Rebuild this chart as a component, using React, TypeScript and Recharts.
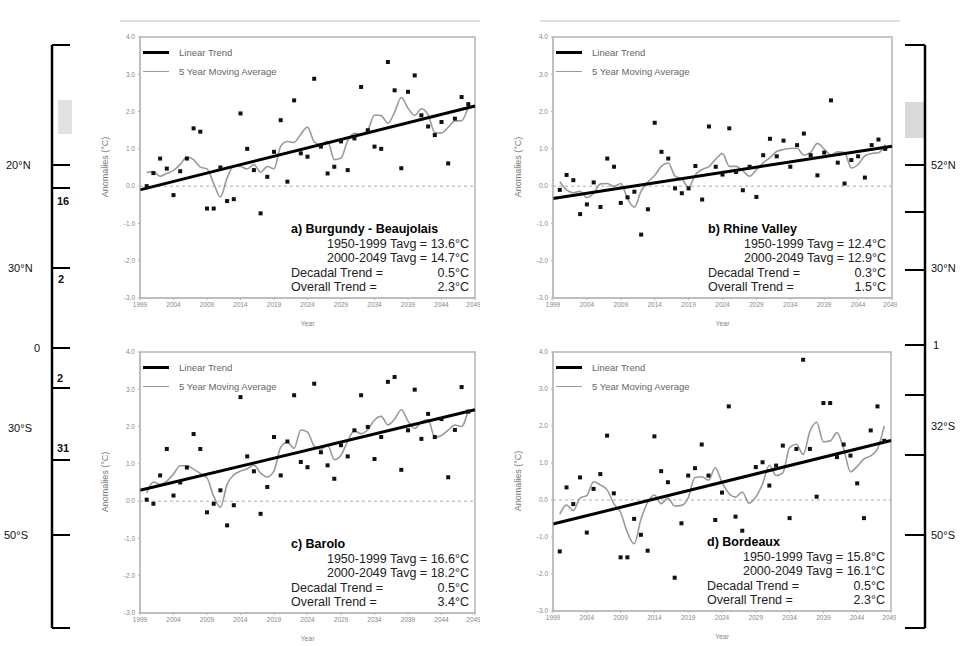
import React from "react";
import {
  ComposedChart,
  Line,
  Scatter,
  XAxis,
  YAxis,
  ReferenceLine,
  ReferenceArea,
} from "recharts";

// years of the projected series (2000..2048 plotted)
const years = Array.from({ length: 49 }, (_, i) => 2000 + i);
const xTicks = [1999, 2004, 2009, 2014, 2019, 2024, 2029, 2034, 2039, 2044, 2049];
const yTicks = [-3, -2, -1, 0, 1, 2, 3, 4];
const trendYears = [1999, 2049];

// anomalies (°C)
const burgundy = [
  0.0, 0.35, 0.74, 0.47, -0.24, 0.4, 0.74, 1.55, 1.46, -0.6,
  -0.6, 0.5, -0.4, -0.35, 1.95, 1.0, 0.43, -0.73, 0.25, 0.92,
  1.77, 0.12, 2.3, 0.88, 0.79, 2.88, 1.06, 0.34, 0.52, 1.2,
  0.43, 1.28, 2.66, 1.5, 1.06, 1.0, 3.33, 2.57, 0.48, 2.53,
  2.97, 1.9, 1.6, 1.37, 1.72, 0.61, 1.81, 2.39, 2.2,
];
const rhine = [
  -0.1, 0.3, 0.16, -0.75, -0.49, 0.1, -0.56, 0.74, 0.52, -0.45,
  -0.3, -0.15, -1.3, -0.62, 1.7, 0.92, 0.74, -0.06, -0.19, -0.06,
  0.54, -0.36, 1.6, 0.52, 0.31, 1.55, 0.38, -0.11, 0.52, -0.29,
  0.83, 1.27, 0.8, 1.22, 0.52, 1.1, 1.41, 0.83, 0.29, 0.9,
  2.3, 0.63, 0.07, 0.7, 0.8, 0.23, 1.1, 1.25, 1.0,
];
const barolo = [
  0.04, -0.07, 0.69, 1.4, 0.15, 0.5, 0.9, 1.8, 1.4, -0.3,
  -0.07, 0.29, -0.65, -0.11, 2.79, 1.2, 0.8, -0.34, 0.38, 1.72,
  0.69, 1.6, 2.84, 1.05, 0.91, 3.15, 1.31, 0.96, 0.6, 1.5,
  1.2, 1.9, 2.84, 1.99, 1.13, 1.72, 3.2, 3.33, 0.84, 1.9,
  2.99, 1.67, 2.34, 1.72, 2.2, 0.64, 1.91, 3.06, 2.4,
];
const bordeaux = [
  -1.39, 0.34, -0.11, 0.61, -0.88, 0.3, 0.7, 1.74, 0.18, -1.55,
  -1.55, -0.51, -0.94, -1.37, 1.72, 0.78, 0.48, -2.1, -0.63, 0.66,
  0.86, 1.5, 0.66, -0.54, 0.2, 2.53, -0.45, -0.83, -1.06, 0.89,
  1.02, 0.39, 0.93, 1.47, -0.49, 1.38, 3.79, 1.38, 0.09, 2.62,
  2.62, 1.16, 1.5, 1.2, 0.45, -0.49, 1.88, 2.53, 1.6,
];

// linear trend at 1999 and 2049
const burgundyTrend = [-0.1, 2.15];
const rhineTrend = [-0.33, 1.07];
const baroloTrend = [0.29, 2.45];
const bordeauxTrend = [-0.65, 1.61];

const FONT = "'Liberation Sans', Arial, sans-serif";

function movingAverage(vals: number[], win = 5) {
  const h = Math.floor(win / 2);
  return vals.map((_, i) => {
    const s = vals.slice(Math.max(0, i - h), Math.min(vals.length, i + h + 1));
    return s.reduce((a, b) => a + b, 0) / s.length;
  });
}

function Dot(props: any) {
  const { cx, cy } = props;
  if (cx == null || cy == null) return null;
  return <rect x={cx - 2} y={cy - 2} width={4} height={4} fill="#111" />;
}

interface PanelProps {
  x0: number;
  y0: number;
  pw: number;
  ph: number;
  values: number[];
  trend: number[];
  title: string;
  stats: [string, string, string, string];
}

function Panel({ x0, y0, pw, ph, values, trend, title, stats }: PanelProps) {
  const ma = movingAverage(values);
  const rows = years.map((y, i) => ({ year: y, value: values[i], ma: ma[i] }));
  const trendRows = trendYears.map((y, i) => ({ year: y, trend: trend[i] }));
  const yw = 50;
  const top = 10;
  const xh = 16;
  const w = pw + yw + 5;
  const h = ph + top + xh;

  return (
    <div style={{ position: "absolute", left: x0 - yw, top: y0 - top, width: w, height: h }}>
      <ComposedChart width={w} height={h} data={rows} margin={{ top, right: 5, left: 0, bottom: 0 }}>
        <ReferenceArea x1={1999} x2={2049} y1={-3} y2={4} fill="#fff" stroke="#b5b5b5" strokeWidth={1.5} ifOverflow="extendDomain" />
        <XAxis
          dataKey="year"
          type="number"
          domain={[1999, 2049]}
          ticks={xTicks}
          height={xh}
          tickSize={2}
          tickMargin={2}
          axisLine={{ stroke: "#b5b5b5" }}
          tickLine={{ stroke: "#b5b5b5" }}
          tick={{ fontSize: 6.5, fill: "#888", fontFamily: FONT }}
        />
        <YAxis
          type="number"
          domain={[-3, 4]}
          ticks={yTicks}
          width={yw}
          tickSize={2}
          tickMargin={3}
          axisLine={{ stroke: "#b5b5b5" }}
          tickLine={{ stroke: "#b5b5b5" }}
          tickFormatter={(v: number) => v.toFixed(1)}
          tick={{ fontSize: 6.5, fill: "#888", fontFamily: FONT }}
        />
        <ReferenceLine y={0} stroke="#aaa" strokeDasharray="3 3" />
        <Line
          dataKey="ma"
          type="monotone"
          stroke="#9a9a9a"
          strokeWidth={1.6}
          dot={false}
          isAnimationActive={false}
        />
        <Scatter dataKey="value" shape={<Dot />} isAnimationActive={false} />
        <Line
          data={trendRows}
          dataKey="trend"
          type="linear"
          stroke="#000"
          strokeWidth={3}
          dot={false}
          isAnimationActive={false}
        />
      </ComposedChart>

      {/* legend */}
      <div style={{ position: "absolute", left: yw + 3, top: top + 6, fontFamily: FONT, fontSize: 9.5, color: "#666", lineHeight: "19px" }}>
        <div style={{ display: "flex", alignItems: "center" }}>
          <span style={{ display: "inline-block", width: 26, height: 3, background: "#000", marginRight: 10 }} />
          Linear Trend
        </div>
        <div style={{ display: "flex", alignItems: "center" }}>
          <span style={{ display: "inline-block", width: 26, height: 1.5, background: "#9a9a9a", marginRight: 10 }} />
          5 Year Moving Average
        </div>
      </div>

      {/* axis titles */}
      <div
        style={{
          position: "absolute",
          left: 15 - 50,
          top: top + ph / 2 - 6,
          width: 100,
          textAlign: "center",
          transform: "rotate(-90deg)",
          fontFamily: FONT,
          fontSize: 9,
          color: "#777",
        }}
      >
        Anomalies (°C)
      </div>
      <div style={{ position: "absolute", left: yw, width: pw, top: h + 6, textAlign: "center", fontFamily: FONT, fontSize: 7, color: "#888" }}>
        Year
      </div>

      {/* stats box */}
      <div
        style={{
          position: "absolute",
          right: 11,
          top: top + ph - 76,
          width: 178,
          fontFamily: FONT,
          fontSize: 12.5,
          lineHeight: "14.5px",
          color: "#222",
          background: "#fff",
        }}
      >
        <div style={{ fontWeight: "bold", color: "#000" }}>{title}</div>
        <div style={{ textAlign: "right" }}>{stats[0]}</div>
        <div style={{ textAlign: "right" }}>{stats[1]}</div>
        <div style={{ display: "flex", justifyContent: "space-between" }}>
          <span>Decadal Trend =</span>
          <span>{stats[2]}</span>
        </div>
        <div style={{ display: "flex", justifyContent: "space-between" }}>
          <span>Overall Trend =</span>
          <span>{stats[3]}</span>
        </div>
      </div>
    </div>
  );
}

function SideAxes() {
  const leftTicks = [45, 165, 188, 268, 348, 388, 460, 535, 628];
  const rightTicks = [45, 165, 212, 270, 345, 395, 455, 535, 628];
  const txt = { fontFamily: FONT, fontSize: 11, fill: "#111" };
  return (
    <svg width={967} height={646} style={{ position: "absolute", left: 0, top: 0 }}>
      <line x1={120} x2={480} y1={21} y2={21} stroke="#d4d4d4" strokeWidth={1.5} />
      <line x1={540} x2={900} y1={21} y2={21} stroke="#d4d4d4" strokeWidth={1.5} />
      <rect x={58} y={100} width={14} height={34} fill="#e2e2e2" />
      <rect x={905} y={102} width={20} height={36} fill="#dadada" />
      <line x1={52} x2={52} y1={45} y2={628} stroke="#000" strokeWidth={2.5} />
      {leftTicks.map((y) => (
        <line key={"l" + y} x1={52} x2={70} y1={y} y2={y} stroke="#000" strokeWidth={2} />
      ))}
      <line x1={925} x2={925} y1={45} y2={628} stroke="#000" strokeWidth={2.5} />
      {rightTicks.map((y) => (
        <line key={"r" + y} x1={905} x2={925} y1={y} y2={y} stroke="#000" strokeWidth={2} />
      ))}
      <text x={6} y={169} {...txt}>20°N</text>
      <text x={8} y={272} {...txt}>30°N</text>
      <text x={34} y={352} {...txt}>0</text>
      <text x={8} y={432} {...txt}>30°S</text>
      <text x={4} y={539} {...txt}>50°S</text>
      <text x={57} y={205} {...txt} fontWeight="bold">16</text>
      <text x={58} y={283} {...txt} fontWeight="bold">2</text>
      <text x={57} y={382} {...txt} fontWeight="bold">2</text>
      <text x={57} y={452} {...txt} fontWeight="bold">31</text>
      <text x={931} y={169} {...txt}>52°N</text>
      <text x={931} y={272} {...txt}>30°N</text>
      <text x={933} y={349} {...txt}>1</text>
      <text x={931} y={430} {...txt}>32°S</text>
      <text x={931} y={539} {...txt}>50°S</text>
    </svg>
  );
}

export default function App() {
  return (
    <div style={{ position: "absolute", left: 0, top: 0, width: 967, height: 646, background: "#fff", overflow: "hidden" }}>
      <SideAxes />
      <Panel
        x0={140}
        y0={37}
        pw={335}
        ph={261}
        values={burgundy}
        trend={burgundyTrend}
        title="a) Burgundy - Beaujolais"
        stats={["1950-1999 Tavg = 13.6°C", "2000-2049 Tavg = 14.7°C", "0.5°C", "2.3°C"]}
      />
      <Panel
        x0={553}
        y0={37}
        pw={339}
        ph={261}
        values={rhine}
        trend={rhineTrend}
        title="b) Rhine Valley"
        stats={["1950-1999 Tavg = 12.4°C", "2000-2049 Tavg = 12.9°C", "0.3°C", "1.5°C"]}
      />
      <Panel
        x0={140}
        y0={352}
        pw={335}
        ph={261}
        values={barolo}
        trend={baroloTrend}
        title="c) Barolo"
        stats={["1950-1999 Tavg = 16.6°C", "2000-2049 Tavg = 18.2°C", "0.5°C", "3.4°C"]}
      />
      <Panel
        x0={553}
        y0={352}
        pw={338}
        ph={259}
        values={bordeaux}
        trend={bordeauxTrend}
        title="d) Bordeaux"
        stats={["1950-1999 Tavg = 15.8°C", "2000-2049 Tavg = 16.1°C", "0.5°C", "2.3°C"]}
      />
    </div>
  );
}
